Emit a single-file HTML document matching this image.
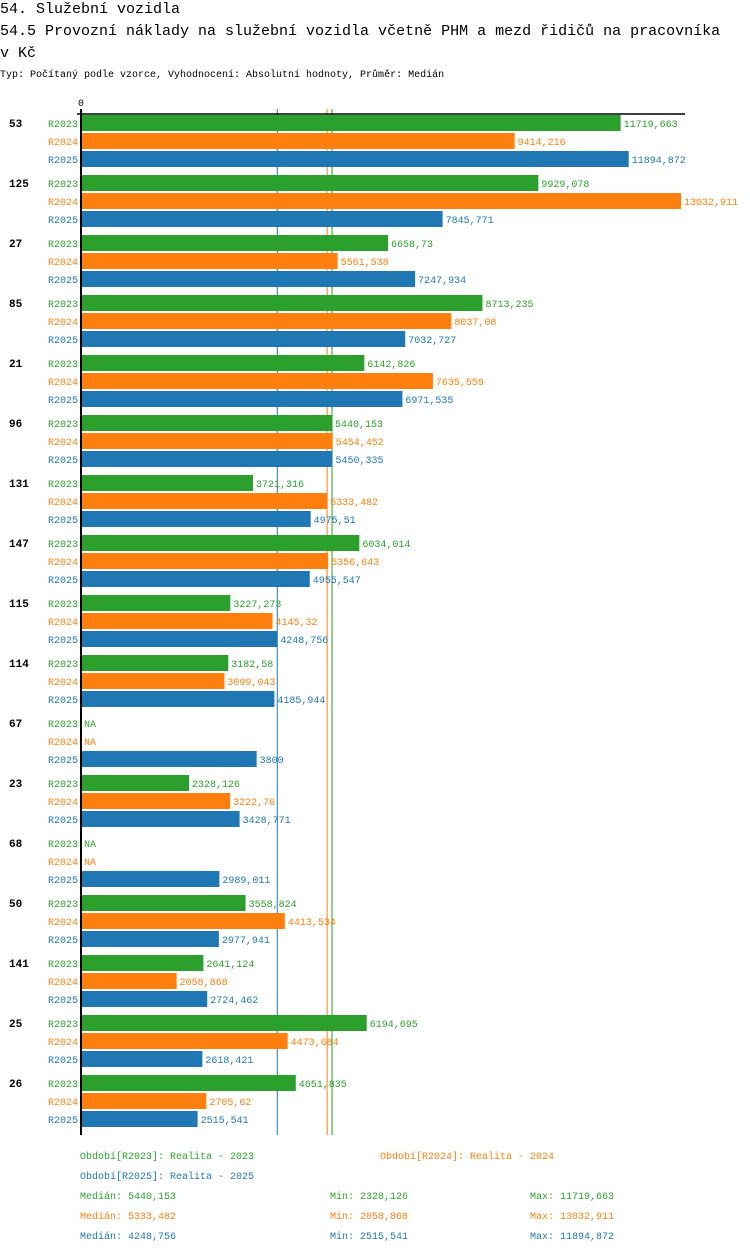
<!DOCTYPE html>
<html><head><meta charset="utf-8"><style>
body{margin:0;background:#fff;width:750px;height:1254px;overflow:hidden;font-family:"Liberation Mono",monospace}
svg text{font-family:"Liberation Mono",monospace}
</style></head><body>
<svg id="chart" width="750" height="1254" xmlns="http://www.w3.org/2000/svg">
<text x="0" y="13" font-size="15" fill="#000">54. Služební vozidla</text>
<text x="0" y="35" font-size="15" fill="#000">54.5 Provozní náklady na služební vozidla včetně PHM a mezd řidičů na pracovníka</text>
<text x="0" y="57" font-size="15" fill="#000">v Kč</text>
<text x="0" y="77" font-size="10" fill="#000">Typ: Počítaný podle vzorce, Vyhodnocení: Absolutní hodnoty, Průměr: Medián</text>
<g id="plot"></g>
</svg>
<script>
const groups=["53","125","27","85","21","96","131","147","115","114","67","23","68","50","141","25","26"];
const series=["R2023","R2024","R2025"];
const v2023=[11719.663,9929.078,6658.73,8713.235,6142.826,5440.153,3721.316,6034.014,3227.273,3182.58,null,2328.126,null,3558.824,2641.124,6194.695,4651.835];
const v2024=[9414.216,13032.911,5561.538,8037.08,7635.559,5454.452,5333.482,5356.643,4145.32,3099.043,null,3222.76,null,4413.534,2058.868,4473.684,2705.62];
const v2025=[11894.872,7845.771,7247.934,7032.727,6971.535,5450.335,4975.51,4955.547,4248.756,4185.944,3800,3428.771,2989.011,2977.941,2724.462,2618.421,2515.541];
const medians=[5440.153,5333.482,4248.756];
const mins=[2328.126,2058.868,2515.541];
const maxs=[11719.663,13032.911,11894.872];
const colors=["#2ca02c","#ff7f0e","#1f77b4"];
const vals=[v2023,v2024,v2025];
const NS="http://www.w3.org/2000/svg";
const g=document.getElementById('plot');
const x0=82, k=599/13032.911;
const xs=v=>x0+v*k;
const fmt=v=>String(+v.toFixed(3)).replace('.',',');
function el(t,a,txt){const e=document.createElementNS(NS,t);for(const n in a)e.setAttribute(n,a[n]);if(txt!=null)e.textContent=txt;g.appendChild(e);return e;}
const topY=114,pitch=60;
const bottom=topY+groups.length*pitch+1;
[2,1,0].forEach(j=>{
  const l=el('line',{x1:xs(medians[j]),x2:xs(medians[j]),y1:109,y2:bottom,stroke:colors[j],'stroke-width':1});
  
  
});
groups.forEach((gr,i)=>{
  const gy=topY+i*pitch;
  const gl=el('text',{x:9,y:gy+13,'font-size':11,'font-weight':'bold',fill:'#000'},gr);
  
  
  series.forEach((s,j)=>{
    const y=gy+1+j*18;
    const sl=el('text',{x:78,y:y+12,'font-size':10,fill:colors[j],'text-anchor':'end'},s);
    
    
    const v=vals[j][i];
    if(v==null){
      const na=el('text',{x:x0+2,y:y+12,'font-size':10,fill:colors[j]},'NA');
      
      
      return;
    }
    const r=el('rect',{x:x0,y:y,width:xs(v)-x0,height:16,fill:colors[j]});
    
    
    const t=el('text',{x:xs(v)+3,y:y+12,'font-size':10,fill:colors[j]},fmt(v));
    
    
  });
});
const ax=el('line',{x1:81,x2:81,y1:109,y2:bottom,stroke:'#000','stroke-width':2});


const xa=el('line',{x1:77,x2:685,y1:114,y2:114,stroke:'#000','stroke-width':1.5});


const z=el('text',{x:81,y:106,'font-size':10,'text-anchor':'middle',fill:'#000'},'0');


const legend=[[80,1159,"Období[R2023]: Realita - 2023",0],[380,1159,"Období[R2024]: Realita - 2024",1],[80,1179,"Období[R2025]: Realita - 2025",2]];
legend.forEach(a=>{const t=el('text',{x:a[0],y:a[1],'font-size':10,fill:colors[a[3]]},a[2]);

});
[0,1,2].forEach(j=>{
  const y=1199+j*20;
  const a=el('text',{x:80,y:y,'font-size':10,fill:colors[j]},'Medián: '+fmt(medians[j]));
  
  
  const b=el('text',{x:330,y:y,'font-size':10,fill:colors[j]},'Min: '+fmt(mins[j]));
  
  
  const c=el('text',{x:530,y:y,'font-size':10,fill:colors[j]},'Max: '+fmt(maxs[j]));
  
  
});
</script>
</body></html>
